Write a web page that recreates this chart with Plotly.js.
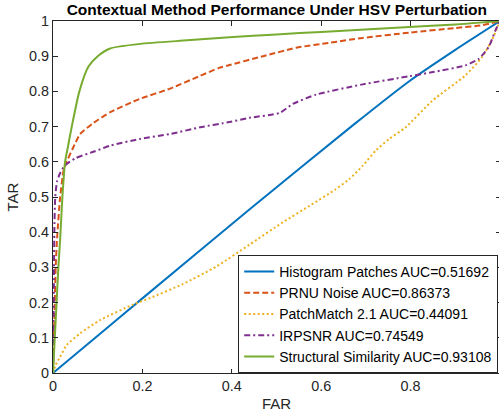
<!DOCTYPE html>
<html>
<head>
<meta charset="utf-8">
<script src="https://cdn.plot.ly/plotly-3.0.1.min.js"></script>
<style>
  html, body { margin: 0; padding: 0; background: #fff; overflow: hidden; }
  #chart { width: 501px; height: 417px; }
</style>
</head>
<body>
<div id="chart"></div>
<script>
// ---- Data ----
const seriesNames = [
  "Histogram Patches AUC=0.51692",
  "PRNU Noise AUC=0.86373",
  "PatchMatch 2.1 AUC=0.44091",
  "IRPSNR AUC=0.74549",
  "Structural Similarity AUC=0.93108"
];

const histFAR = [0, 0.1, 0.2, 0.44, 0.674, 0.797, 0.9, 1];
const histTAR = [0, 0.106, 0.212, 0.465, 0.707, 0.829, 0.918, 1];

const prnuFAR = [0, 0.002, 0.004, 0.006, 0.009, 0.016, 0.024, 0.031, 0.045, 0.061, 0.09, 0.128, 0.195, 0.262, 0.329, 0.37, 0.395, 0.47, 0.544, 0.618, 0.693, 0.797, 0.9, 0.96, 1];
const prnuTAR = [0, 0.1, 0.2, 0.3, 0.38, 0.5, 0.577, 0.601, 0.64, 0.679, 0.71, 0.741, 0.779, 0.808, 0.844, 0.866, 0.875, 0.9, 0.924, 0.938, 0.952, 0.967, 0.98, 0.988, 1];

const pmFAR = [0, 0.005, 0.016, 0.031, 0.061, 0.105, 0.18, 0.217, 0.291, 0.366, 0.44, 0.514, 0.574, 0.63, 0.663, 0.693, 0.722, 0.752, 0.789, 0.849, 0.923, 0.96, 0.982, 1];
const pmTAR = [0, 0.02, 0.046, 0.08, 0.113, 0.15, 0.195, 0.213, 0.253, 0.303, 0.365, 0.428, 0.475, 0.52, 0.551, 0.589, 0.632, 0.665, 0.698, 0.774, 0.846, 0.898, 0.946, 1];

const irpFAR = [0, 0.001, 0.002, 0.003, 0.005, 0.009, 0.016, 0.027, 0.05, 0.094, 0.128, 0.195, 0.262, 0.329, 0.395, 0.44, 0.507, 0.536, 0.589, 0.693, 0.797, 0.85, 0.923, 0.953, 0.975, 0.99, 1];
const irpTAR = [0, 0.1, 0.25, 0.4, 0.5, 0.544, 0.568, 0.59, 0.61, 0.63, 0.646, 0.665, 0.679, 0.698, 0.713, 0.725, 0.739, 0.764, 0.791, 0.82, 0.843, 0.855, 0.874, 0.893, 0.927, 0.974, 1];

const ssimFAR = [0, 0.004, 0.008, 0.012, 0.016, 0.021, 0.027, 0.033, 0.042, 0.059, 0.079, 0.1, 0.128, 0.195, 0.3, 0.395, 0.5, 0.6, 0.797, 0.9, 1];
const ssimTAR = [0, 0.1, 0.2, 0.3, 0.38, 0.5, 0.6, 0.64, 0.7, 0.8, 0.87, 0.9, 0.922, 0.935, 0.945, 0.954, 0.962, 0.969, 0.983, 0.99, 1];

const xTickVals = [0, 0.2, 0.4, 0.6, 0.8, 1];
const xTickText = ["0", "0.2", "0.4", "0.6", "0.8", "1"];
const yTickVals = [0, 0.1, 0.2, 0.3, 0.4, 0.5, 0.6, 0.7, 0.8, 0.9, 1];
const yTickText = ["0", "0.1", "0.2", "0.3", "0.4", "0.5", "0.6", "0.7", "0.8", "0.9", "1"];

// ---- Styling ----
const colors = ["#0072BD", "#D95319", "#EDB120", "#7E2F8E", "#77AC30"];
const dashes = ["solid", "6px,3px", "2px,2.5px", "6px,3px,2px,3px", "solid"];
const xs = [histFAR, prnuFAR, pmFAR, irpFAR, ssimFAR];
const ys = [histTAR, prnuTAR, pmTAR, irpTAR, ssimTAR];

const traces = seriesNames.map((name, i) => ({
  type: "scatter",
  mode: "lines",
  name: name,
  x: xs[i],
  y: ys[i],
  line: { color: colors[i], width: 2, dash: dashes[i], shape: "spline", smoothing: 0.6 },
  hoverinfo: "skip"
}));

const axisColor = "#262626";
const fontFam = "'Liberation Sans', Arial, Helvetica, sans-serif";

const layout = {
  width: 501,
  height: 417,
  margin: { l: 53, r: 1, t: 21, b: 44, pad: 0 },
  paper_bgcolor: "#ffffff",
  plot_bgcolor: "#ffffff",
  font: { family: fontFam, size: 14.4, color: axisColor },
  title: {
    text: "<b>Contextual Method Performance Under HSV Perturbation</b>",
    font: { family: fontFam, size: 15.5, color: "#000000" },
    x: 0.5525, xanchor: "center",
    y: 0.976, yanchor: "middle"
  },
  showlegend: true,
  legend: {
    x: 0.996, xanchor: "right",
    y: 0.0, yanchor: "bottom",
    bgcolor: "#ffffff",
    bordercolor: axisColor,
    borderwidth: 1,
    font: { family: fontFam, size: 14, color: "#000000" },
    tracegroupgap: 0,
    itemwidth: 30
  },
  xaxis: {
    range: [0, 1],
    tickvals: xTickVals,
    ticktext: xTickText,
    ticks: "inside",
    ticklen: 4.5,
    tickwidth: 1,
    tickcolor: axisColor,
    showline: true,
    linecolor: axisColor,
    linewidth: 1,
    mirror: "ticks",
    showgrid: false,
    zeroline: false,
    tickfont: { family: fontFam, size: 14.4, color: axisColor },
    title: { text: "FAR", font: { family: fontFam, size: 15, color: axisColor }, standoff: 5 },
    fixedrange: true
  },
  yaxis: {
    range: [0, 1],
    tickvals: yTickVals,
    ticktext: yTickText,
    ticks: "inside",
    ticklen: 4.5,
    tickwidth: 1,
    tickcolor: axisColor,
    showline: true,
    linecolor: axisColor,
    linewidth: 1,
    mirror: "ticks",
    showgrid: false,
    zeroline: false,
    tickfont: { family: fontFam, size: 14.4, color: axisColor },
    title: { text: "TAR", font: { family: fontFam, size: 15, color: axisColor }, standoff: 6 },
    fixedrange: true
  }
};

Plotly.newPlot("chart", traces, layout, { displayModeBar: false, staticPlot: true });
</script>
</body>
</html>
